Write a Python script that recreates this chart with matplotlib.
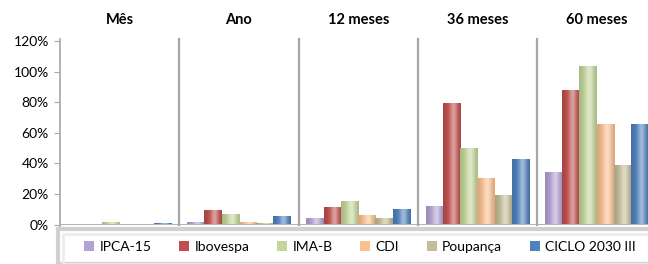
import numpy as np
import matplotlib
matplotlib.use("AGG")
import matplotlib.pyplot as plt
import matplotlib.transforms as mtransforms
from matplotlib.colors import to_rgb
from matplotlib.patches import Rectangle, Patch

plt.rcParams['font.family'] = ['Lato', 'DejaVu Sans']

periodos = ["Mês", "Ano", "12 meses", "36 meses", "60 meses"]
series = ["IPCA-15", "Ibovespa", "IMA-B", "CDI", "Poupança", "CICLO 2030 III"]
cores = ["#b3a2d3", "#c0504d", "#c3d69b", "#fac090", "#c4bd97", "#4f81bd"]

ipca = [0.4, 1.8, 4.4, 12.2, 34.3]
ibovespa = [0.6, 9.3, 11.7, 79.5, 87.7]
imab = [1.4, 6.8, 15.6, 50.0, 103.5]
cdi = [0.2, 1.6, 6.2, 30.5, 66.0]
poupanca = [0.1, 1.0, 4.3, 19.3, 39.0]
ciclo = [0.8, 5.8, 10.0, 43.0, 65.4]
valores = [ipca, ibovespa, imab, cdi, poupanca, ciclo]

yticks = [0, 20, 40, 60, 80, 100, 120]

fig = plt.figure(figsize=(6.48, 2.64), dpi=100)
ax = fig.add_axes([60 / 648, 1 - 224.5 / 264, 1 - 60 / 648, (224.5 - 41) / 264])

largura = 0.1445
pad = 0.065


def barra_gradiente(ax, x0, w, h, cor):
    # imitates the shaded "cylinder" look of the original bars
    base = np.array(to_rgb(cor))
    t = np.linspace(0, 1, 32)
    luz = np.exp(-((t - 0.6) / 0.22) ** 2) * 0.45
    escuro = 0.85 + 0.15 * np.exp(-((t - 0.5) / 0.35) ** 2)
    cols = base[None, :] * escuro[:, None]
    cols = cols + (1 - cols) * luz[:, None]
    img = np.clip(cols[None, :, :], 0, 1)
    im = ax.imshow(img, extent=[x0, x0 + w, 0, h], aspect='auto',
                   interpolation='bilinear', zorder=3)
    r = Rectangle((x0, 0), w, h, facecolor='none', edgecolor='none')
    ax.add_patch(r)
    im.set_clip_path(r)


ax.axhline(0, color="#a6a6a6", lw=1.2, zorder=2)

for i in range(len(periodos)):
    for j, vals in enumerate(valores):
        barra_gradiente(ax, i + pad + j * largura, largura, vals[i], cores[j])

for k in range(1, 5):
    ax.plot([k, k], [0, 121.5], color="#a6a6a6", lw=1.6, zorder=2, clip_on=False)

ax.set_xlim(0, (648 - 60) / 119.3)
ax.set_ylim(0, 120)
ax.set_yticks(yticks)
ax.set_yticklabels([f"{v}%" for v in yticks], fontsize=10)
ax.set_xticks([])
for s in ["top", "right", "bottom"]:
    ax.spines[s].set_visible(False)
ax.spines["left"].set_color("#a6a6a6")
ax.spines["left"].set_linewidth(1.2)
ax.spines["left"].set_bounds(-1.5, 121.5)
ax.tick_params(axis='y', length=4, color="#a6a6a6", pad=4)
ax.set_facecolor('none')

trans = mtransforms.blended_transform_factory(ax.transData, fig.transFigure)
for i, p in enumerate(periodos):
    ax.text(i + 0.5, 1 - 20 / 264, p, transform=trans,
            ha='center', va='center', fontsize=10.5, fontweight='bold')

# legend box
fig.patches.append(Rectangle((58 / 648, 0), 1, 35 / 264, transform=fig.transFigure,
                             facecolor='white', edgecolor='#d0d0d0', lw=3, zorder=0))
fig.patches.append(Rectangle((63 / 648, 0), 1, 30 / 264, transform=fig.transFigure,
                             facecolor='none', edgecolor='#ececec', lw=2, zorder=0))

handles = [Patch(facecolor=c, edgecolor='none') for c in cores]
fig.legend(handles, series, loc='center', bbox_to_anchor=(360 / 648, 17 / 264),
           ncol=6, frameon=False, fontsize=10, handlelength=0.7, handleheight=0.7,
           handletextpad=0.4, columnspacing=2.0)

fig.savefig("out.png", dpi=100)
